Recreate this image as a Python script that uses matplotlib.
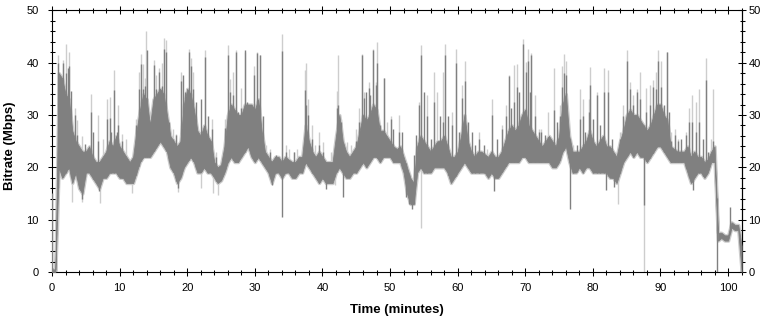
import numpy as np
import matplotlib
matplotlib.use("Agg")
import matplotlib.pyplot as plt
from matplotlib.ticker import MultipleLocator

# ---------------- data ----------------
# band of the dark (smoothed) series, sampled every half minute, 0 .. 102 min
minutes = np.arange(0, 102.5, 0.5)
dark_lo = [
    0, 0, 20, 18, 19, 20, 17, 19, 16, 15,
    19, 19, 18, 17, 16, 18, 18, 19, 19, 19,
    18, 18, 17, 17, 17, 19, 21, 22, 22, 22,
    23, 24, 25, 24, 23, 20, 19, 17, 18, 20,
    21, 22, 21, 19, 19, 20, 19, 19, 18, 17,
    17.5, 19, 21, 22, 21, 21, 22, 23, 24, 22,
    21, 22, 21, 20, 19, 17, 19, 19, 18, 19,
    19, 18, 18, 19, 19, 21, 20, 19, 18, 17,
    18, 17, 17, 17, 19, 20, 19, 18, 18, 19,
    19, 20, 21, 20, 21, 22, 22, 21, 22, 22,
    22, 21, 21, 21, 19, 15, 13, 13, 19, 20,
    19, 19, 19, 20, 20, 20, 20, 19, 17, 18,
    19, 20, 21, 20, 19, 19, 19, 19, 19, 18,
    19, 18, 18, 19, 20, 21, 21, 21, 21, 22,
    22, 21, 21, 21, 21, 21, 21, 21, 20, 20,
    21, 23, 24, 21, 19, 19, 20, 19, 20, 20,
    19, 19, 19, 19, 19, 18, 18, 17, 19, 21,
    22, 23, 22, 23, 22, 22, 21, 22, 23, 24,
    24, 23, 22, 21, 21, 21, 21, 21, 19, 17,
    18, 19, 19, 18, 19, 21, 21, 6, 6.5, 6,
    6, 8.5, 8, 8, 0,
]
dark_hi = [
    0.5, 0.5, 38, 37, 34, 33, 27, 25, 24, 23,
    23, 24, 22, 21, 21, 22, 23, 25, 24, 26,
    24, 23, 22, 21, 22, 27, 31, 34, 33, 28,
    33, 34, 35, 34, 30, 26, 25, 24, 25, 32,
    35, 34, 31, 27, 26, 28, 26, 25, 21, 20,
    20.5, 24, 30, 32, 31, 30, 30, 32, 32, 32,
    31, 33, 27, 23, 22, 21, 22, 22, 21, 22,
    21.5, 21, 21, 22, 22, 28, 25, 23, 22, 23,
    22, 21, 21, 21, 26, 30, 25, 23, 22, 23,
    24, 27, 30, 29, 30, 32, 31, 27, 27, 26,
    25, 24, 23.5, 24, 22, 20, 18, 17, 24, 26,
    25, 24, 23, 24, 25, 25, 26, 24, 22, 22,
    23, 26, 30, 25, 23, 22, 23, 23, 22.5, 22,
    23, 22, 22, 23, 25, 27, 28, 27, 28, 30,
    31, 28, 27, 26, 25, 24, 25, 26, 25, 24,
    26, 32, 34, 26, 23, 23, 23, 24, 25, 27,
    25, 24, 25, 26, 24, 24, 23, 22, 25, 27,
    30, 31, 30, 30, 29, 28, 27, 28, 30, 32,
    32, 30, 29, 24, 23.5, 23, 23, 23, 24, 22,
    23, 22, 22, 21, 21.5, 23, 24, 7.5, 7.5, 7,
    7, 9.5, 9, 9, 5,
]

# individual excursions of the dark series (minute, Mbps)
dark_spike_t = [
    0.0, 0.9, 1.6, 2.0, 2.3, 2.5, 2.8, 3.4, 3.7, 4.9, 5.7, 6.1, 6.75, 8.2, 8.6, 8.8,
    9.2, 9.6, 9.8, 10.3, 12.4, 12.8, 13.1, 13.4, 13.7, 14.0, 14.4, 15.1, 15.4, 15.8,
    16.2, 16.5, 16.9, 17.3, 17.9, 18.4, 19.1, 19.4, 19.7, 20.2, 20.6, 20.9, 21.3,
    22.1, 22.7, 23.1, 23.6, 24.3, 25.6, 26.0, 26.4, 26.8, 27.2, 27.5, 28.0, 28.5,
    28.9, 29.4, 29.9, 30.3, 30.6, 30.8, 31.2, 32.2, 33.1, 34.0, 34.6, 35.8, 37.0,
    37.4, 37.6, 37.9, 38.5, 39.5, 40.1, 42.1, 42.3, 42.7, 44.9, 45.4, 45.8, 46.1,
    46.5, 46.9, 47.1, 47.5, 47.9, 48.1, 48.5, 49.1, 50.1, 50.5, 51.3, 51.8, 53.5,
    53.9, 54.3, 54.6, 55.0, 55.4, 56.1, 56.5, 57.4, 57.8, 58.1, 58.6, 59.2, 59.7,
    60.2, 60.7, 61.1, 61.5, 62.1, 62.6, 63.1, 63.9, 65.1, 65.8, 66.6, 67.1, 67.6,
    67.9, 68.3, 68.8, 69.1, 69.7, 70.1, 70.4, 70.7, 70.9, 71.5, 72.0, 72.4, 72.9,
    73.4, 74.2, 74.7, 75.1, 75.5, 75.7, 76.0, 77.1, 77.6, 78.1, 78.5, 78.9, 79.4,
    79.6, 80.0, 80.6, 81.1, 81.6, 82.3, 82.8, 84.0, 84.5, 85.1, 85.5, 86.0, 86.5,
    86.9, 87.9, 88.4, 88.9, 89.4, 89.7, 90.1, 90.5, 90.9, 91.2, 91.6, 92.1, 92.6,
    93.1, 93.8, 94.2, 94.6, 95.3, 95.7, 96.3, 96.8, 97.1, 97.8, 100.3,
    # downward excursions
    4.4, 7.0, 18.6, 32.6, 34.0, 40.5, 43.1, 52.3, 52.8, 53.3, 65.4, 76.6, 82.0,
    83.1, 87.5, 94.8, 98.3,
]
dark_spike_v = [
    15, 40, 40, 38, 39, 39.4, 34.5, 30, 26.2, 24.5, 30.6, 26.8, 25, 29.3, 29.5, 26.8,
    34.7, 26.8, 28, 25, 28, 35, 39.8, 35, 35.6, 42.5, 27.5, 39.5, 35, 38.2,
    35.6, 42.6, 42, 28.7, 25.5, 26.2, 36.4, 37.6, 34.4, 42, 39.4, 35, 32.5,
    33.1, 41, 29.9, 27.4, 22, 27.5, 41.4, 34.4, 33.8, 42, 30.6, 31.3, 42.4,
    32.5, 27.4, 37.6, 41.8, 31.9, 41.4, 29.9, 22.9, 22.4, 42.3, 22.9, 22.9, 21.6,
    34.7, 32, 30, 25.5, 24.2, 22.9, 31.3, 32, 28.7, 25, 28.7, 41.4, 33.2,
    34.4, 35.1, 33.8, 42.4, 35.7, 40, 28, 37, 29.3, 27.4, 26.8, 26.8, 22.4,
    26.2, 31.9, 41.4, 34.4, 29.9, 25.5, 32.5, 29.9, 28.7, 41.4, 29.9, 28, 40,
    26.8, 33.2, 36.4, 28.7, 26.8, 24.2, 25.5, 24.2, 30, 25.5, 27.4, 29.9, 37.4,
    31.3, 32.5, 35.4, 34.4, 43.6, 38.2, 40.4, 34.4, 41.4, 29.9, 26.8, 26.8, 26.2,
    25.5, 31, 28.7, 29.9, 35.4, 38, 37.6, 22.9, 24.2, 29.3, 29.9, 26.8, 30.6,
    35.8, 29.3, 33.8, 28, 34.4, 34.4, 25.5, 25.5, 29.9, 40.4, 35, 31.9, 34.4,
    33, 30.6, 31.9, 35.4, 35, 40.4, 35.4, 31.9, 42, 30.6, 25, 26.2, 25,
    25.5, 26.2, 28.7, 28.7, 26.8, 28.7, 25.5, 36.6, 22.9, 25, 12.5,
    14, 15.5, 16, 16.6, 10.6, 15.9, 14.3, 14.3, 13, 12, 15.4, 12, 15.7,
    16.3, 12.8, 15.7, 0,
]

# individual excursions of the light (raw) series (minute, Mbps)
light_spike_t = [
    0.9, 1.6, 2.0, 2.5, 3.4, 3.7, 4.4, 5.7, 6.75, 7.6, 8.2, 8.6, 9.2, 9.8, 10.3, 10.9,
    12.4, 12.8, 13.1, 13.4, 13.7, 13.9, 15.1, 15.4, 15.8, 16.2, 16.5, 16.9, 17.9,
    18.4, 19.1, 20.2, 20.6, 20.9, 22.7, 23.6, 24.3, 25.0, 25.6, 26.0, 26.4, 26.8,
    27.2, 28.0, 28.5, 29.9, 30.3, 30.8, 31.7, 32.2, 34.0, 34.6, 35.1, 35.8, 36.3,
    37.4, 37.6, 37.9, 38.5, 38.9, 39.5, 40.1, 41.3, 42.1, 42.3, 42.7, 43.7, 44.2,
    44.9, 45.4, 45.8, 46.1, 46.9, 47.5, 47.9, 48.1, 49.1, 49.6, 50.1, 51.3, 54.3,
    54.6, 55.4, 56.5, 56.9, 57.8, 58.1, 59.2, 59.7, 60.7, 61.1, 63.1, 64.3, 65.1,
    66.6, 67.1, 67.6, 68.3, 68.8, 69.7, 70.1, 70.4, 70.9, 71.5, 72.0, 72.4, 73.4,
    74.2, 75.1, 75.5, 75.7, 76.0, 77.1, 78.1, 78.5, 79.4, 79.6, 80.6, 81.6, 82.3,
    84.0, 84.5, 85.1, 85.5, 86.0, 86.5, 86.9, 87.9, 88.4, 88.9, 89.4, 89.7, 90.1,
    90.9, 91.6, 92.1, 92.6, 93.8, 94.2, 94.6, 95.3, 95.7, 96.8, 97.5, 97.8,
    # downward excursions
    0.85, 3.0, 4.4, 7.1, 11.8, 18.6, 22.0, 23.8, 24.5, 41.8, 54.6, 83.7, 87.5,
]
light_spike_v = [
    41.5, 40.5, 43.6, 42, 31.3, 29, 26, 34, 30, 25.5, 33, 33.4, 38.5, 31.9, 26.4, 25.5,
    29.3, 38.2, 41.7, 39.8, 37, 46, 40.5, 37.6, 39, 40, 44.8, 44.3, 27.4,
    26.4, 38.2, 42.7, 40.8, 38.2, 42.4, 29.3, 23, 21, 29.3, 43.3, 36.9, 38.2,
    42.5, 35.1, 42, 39.4, 42.1, 41.4, 24.2, 23.5, 45.4, 24.2, 23.5, 22.9, 23.5,
    38.5, 40, 33.1, 28, 24.2, 26.8, 24.8, 22.9, 34.5, 41.4, 29.3, 24.8, 24.2,
    27.4, 31.3, 41.7, 34.4, 36.3, 42.7, 36.3, 44, 37, 28.7, 29.9, 30, 32.5,
    43.3, 33.8, 38.2, 34.4, 38.2, 43.6, 30.6, 42.7, 35.7, 40.3, 26.8, 23.5, 33,
    28, 31.9, 37.6, 39.5, 39.8, 44.6, 40.2, 42.7, 41.8, 33.8, 27.4, 27.4, 30.6,
    39, 31.9, 39.4, 41.7, 40.4, 24.2, 34.9, 33.1, 33.1, 39.2, 34.4, 39, 38.6,
    26.8, 31.9, 42.4, 36.3, 33.8, 35, 38.2, 35.1, 35.7, 36.6, 38.2, 42.4, 40.4,
    42, 26.8, 27.4, 25.5, 26.8, 31.3, 33.8, 32.5, 35, 40.8, 25.5, 35,
    8, 13.4, 13.4, 13.2, 15, 15.3, 16, 15, 14.8, 16.6, 8.4, 13, 0,
]

x_major = [0, 10, 20, 30, 40, 50, 60, 70, 80, 90, 100]
y_major = [0, 10, 20, 30, 40, 50]
x_label = "Time (minutes)"
y_label = "Bitrate (Mbps)"

# ---------------- styling ----------------
DARK = "#808080"
LIGHT = "#cdcdcd"
FONT = ["Liberation Sans", "DejaVu Sans"]
plt.rcParams["font.family"] = FONT

W, H = 774, 321
fig = plt.figure(figsize=(W / 100, H / 100), dpi=100)
left_px, right_px, top_px, bottom_px = 52, 742.3, 10.3, 272
ax = fig.add_axes([left_px / W, 1 - bottom_px / H,
                   (right_px - left_px) / W, (bottom_px - top_px) / H])

lo = np.asarray(dark_lo, float)
hi = np.asarray(dark_hi, float)


def spike_segments(ts, vs):
    ts = np.asarray(ts, float)
    vs = np.asarray(vs, float)
    blo = np.interp(ts, minutes, lo)
    bhi = np.interp(ts, minutes, hi)
    return ts, np.minimum(vs, blo), np.maximum(vs, bhi)


# light series (behind)
ax.fill_between(minutes, lo, hi, facecolor=LIGHT, edgecolor=LIGHT,
                linewidth=2.4, zorder=1)
lt, lmin, lmax = spike_segments(light_spike_t, light_spike_v)
ax.vlines(lt, lmin, lmax, color=LIGHT, linewidth=1.0, zorder=2)

# dark series (front)
ax.fill_between(minutes, lo, hi, facecolor=DARK, edgecolor=DARK,
                linewidth=0.6, zorder=3)
dt, dmin, dmax = spike_segments(dark_spike_t, dark_spike_v)
ax.vlines(dt, dmin, dmax, color=DARK, linewidth=1.0, zorder=4)

ax.set_xlim(0, 102.1)
ax.set_ylim(0, 50)
ax.set_xticks(x_major)
ax.set_yticks(y_major)
ax.xaxis.set_minor_locator(MultipleLocator(2))
ax.yaxis.set_minor_locator(MultipleLocator(2))

for s in ax.spines.values():
    s.set_linewidth(0.8)
    s.set_color("black")

ax.tick_params(which="both", direction="inout", top=True, right=False,
               width=0.75, colors="black", labelsize=8)
ax.tick_params(which="major", length=6)
ax.tick_params(which="minor", length=3.6)
ax.tick_params(axis="x", which="major", pad=5)
ax.tick_params(axis="y", which="major", pad=6.5)

sec = ax.secondary_yaxis("right")
sec.set_yticks(y_major)
sec.yaxis.set_minor_locator(MultipleLocator(2))
sec.tick_params(which="both", direction="inout", width=0.75, colors="black",
                labelsize=8)
sec.tick_params(which="major", length=6, pad=1.5)
sec.tick_params(which="minor", length=3.6)
sec.spines["right"].set_linewidth(0.8)

fig.text(397 / W, 1 - 310 / H, x_label, ha="center", va="center",
         fontsize=9.5, fontweight="bold")
fig.text(10 / W, 1 - 146 / H, y_label, ha="center", va="center",
         rotation=90, fontsize=9.5, fontweight="bold")

fig.savefig("out.png", dpi=100)
